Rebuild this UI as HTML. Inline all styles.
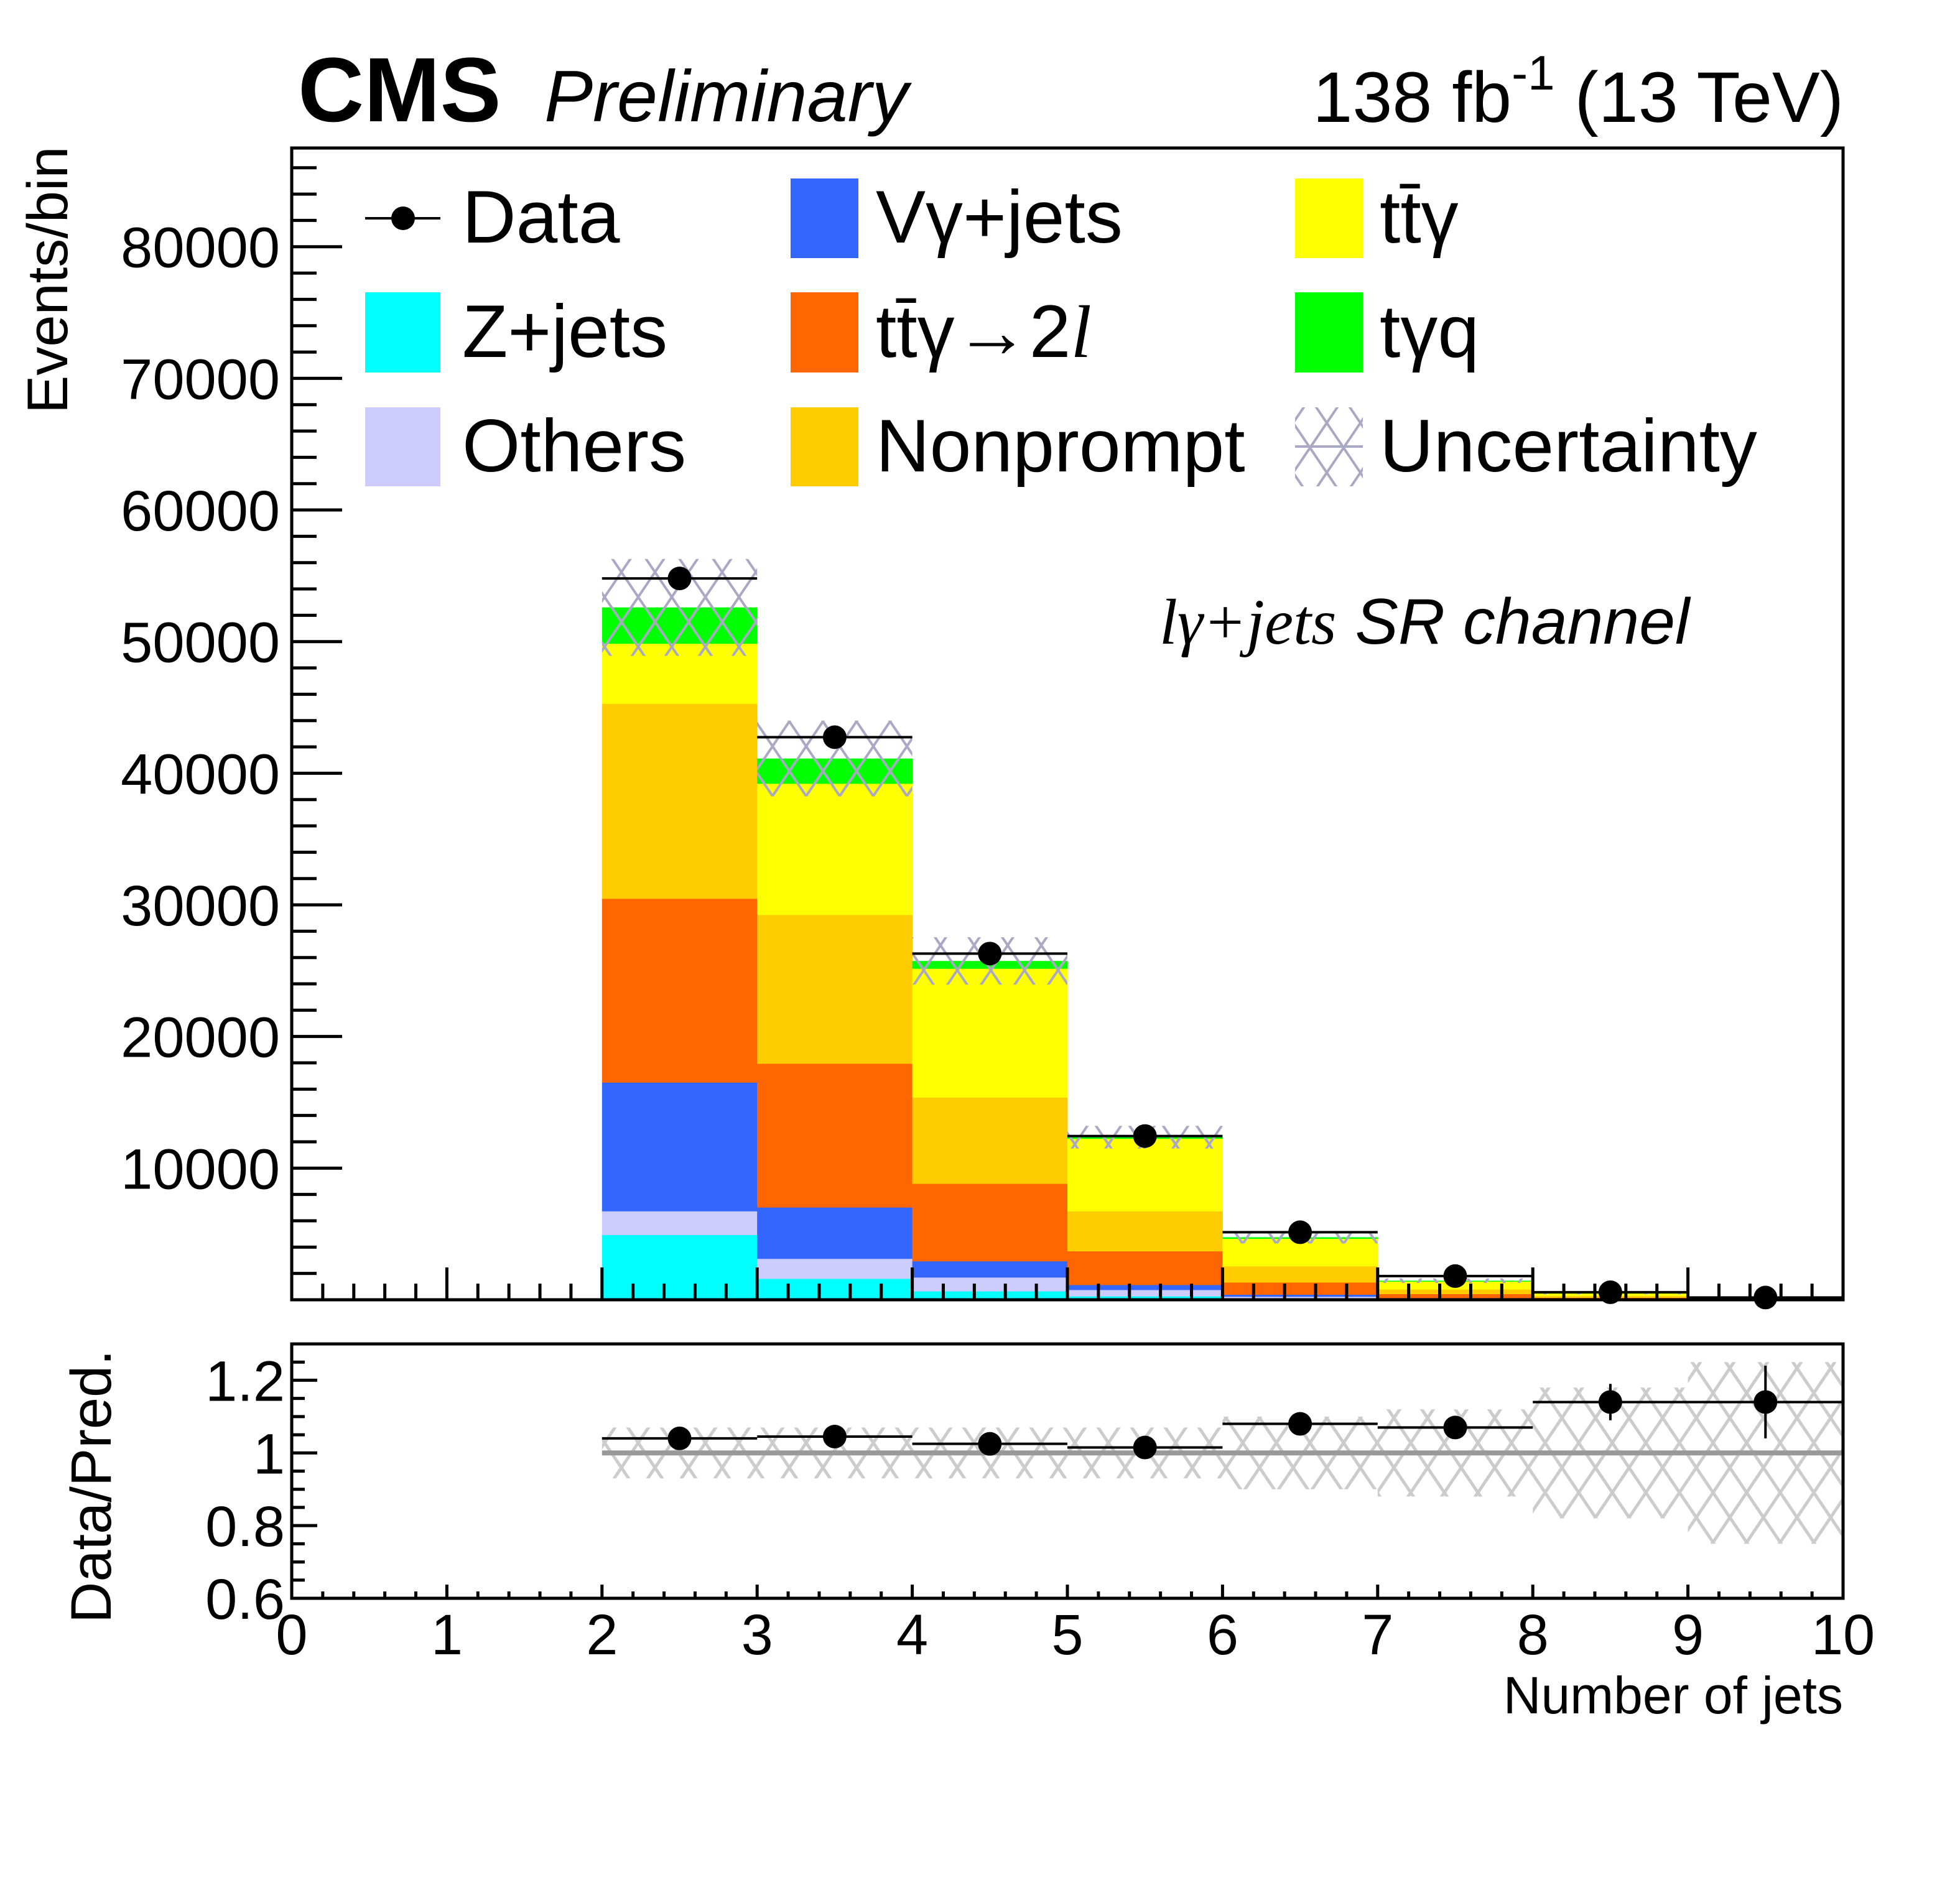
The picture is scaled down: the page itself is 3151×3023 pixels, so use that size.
<!DOCTYPE html>
<html><head><meta charset="utf-8"><style>
html,body{margin:0;padding:0;background:#fff;}
svg{display:block;font-family:"Liberation Sans",sans-serif;}
</style></head><body>
<svg id="c" xmlns="http://www.w3.org/2000/svg" width="3151" height="3023" viewBox="0 0 3151 3023">
<defs>
<pattern id="hatchMain" patternUnits="userSpaceOnUse" width="54" height="80">
<line x1="0" y1="0" x2="54" y2="80" stroke="#a9a9c6" stroke-width="4"/>
<line x1="54" y1="0" x2="0" y2="80" stroke="#a9a9c6" stroke-width="4"/>
</pattern>
<pattern id="hatchRatio" patternUnits="userSpaceOnUse" width="54" height="80">
<line x1="0" y1="0" x2="54" y2="80" stroke="#cccccc" stroke-width="5"/>
<line x1="54" y1="0" x2="0" y2="80" stroke="#cccccc" stroke-width="5"/>
</pattern>
<clipPath id="clipMain"><rect x="469" y="238" width="2494" height="1852"/></clipPath>
<clipPath id="clipRatio"><rect x="469" y="2161" width="2494" height="409"/></clipPath>
</defs>
<g id="stack" clip-path="url(#clipMain)"></g>
<g id="band" clip-path="url(#clipMain)"></g>
<g id="dataPts"></g>
<g id="rband" clip-path="url(#clipRatio)"></g>
<g id="rpts"></g>
<g id="axes"></g>

<text x="479" y="195" font-size="147" font-weight="bold">CMS</text>
<text x="875" y="195" font-size="117" font-style="italic">Preliminary</text>
<text x="2964" y="196" font-size="115" text-anchor="end">138 fb<tspan font-size="78" dy="-52">-1</tspan><tspan dy="52"> (13 TeV)</tspan></text>
<text x="1864" y="1035" font-size="104"><tspan font-family="'Liberation Serif',serif" font-style="italic">lγ+jets</tspan><tspan font-style="italic" dx="30">SR channel</tspan></text>
<text transform="translate(108,665) rotate(-90)" font-size="92">Events/bin</text>
<text transform="translate(178,2610) rotate(-90)" font-size="92">Data/Pred.</text>
<text x="2963" y="2755" font-size="84" text-anchor="end">Number of jets</text>

<g font-size="120">
<g><line x1="587" y1="351" x2="708" y2="351" stroke="#000" stroke-width="4"/><circle cx="648" cy="351" r="19" fill="#000"/><text x="743" y="390">Data</text></g>
<g><rect x="587" y="470" width="121" height="129" fill="#00ffff"/><text x="743" y="574">Z+jets</text></g>
<g><rect x="587" y="655" width="121" height="127" fill="#ccccff"/><text x="743" y="758">Others</text></g>
<g><rect x="1271" y="287" width="109" height="128" fill="#3366ff"/><text x="1408" y="390">Vγ+jets</text></g>
<g><rect x="1271" y="470" width="109" height="129" fill="#ff6600"/><text x="1408" y="574">tt̄γ<tspan font-family="'Liberation Serif',serif">→</tspan>2<tspan font-family="'Liberation Serif',serif" font-style="italic">l</tspan></text></g>
<g><rect x="1271" y="655" width="109" height="127" fill="#ffcc00"/><text x="1408" y="758">Nonprompt</text></g>
<g><rect x="2082" y="287" width="109" height="128" fill="#ffff00"/><text x="2218" y="390">tt̄γ</text></g>
<g><rect x="2082" y="470" width="109" height="129" fill="#00ff00"/><text x="2218" y="574">tγq</text></g>
<g><rect x="2082" y="655" width="109" height="127" fill="url(#hatchMain)"/><line x1="2082" y1="718" x2="2191" y2="718" stroke="#a9a9c6" stroke-width="4"/><text x="2218" y="758">Uncertainty</text></g>
</g>
</svg>
<script>
const binLo = [2,3,4,5,6,7,8,9];
const zjets = [4940,1610,660,280,100,40,15,5];
const others = [1800,1520,1050,480,150,50,20,5];
const vgamma = [9780,3900,1230,380,150,60,25,8];
const ttg2l = [13960,10920,5890,2560,930,300,110,35];
const nonprompt = [14820,11300,6550,3040,1230,350,130,40];
const ttgamma = [4560,9970,9790,5510,2090,600,190,55];
const tgq = [2740,1900,570,100,100,50,10,2];
const dataVals = [54800,42740,26300,12440,5130,1800,570,170];
const uncFrac = [0.07,0.07,0.07,0.07,0.10,0.12,0.18,0.25];
const ratioVals = [1.04,1.045,1.025,1.015,1.08,1.07,1.14,1.14];
const ratioErr = [0.005,0.005,0.006,0.01,0.015,0.025,0.05,0.1];
const yTicks = [10000,20000,30000,40000,50000,60000,70000,80000];
const rTicks = [0.6,0.8,1,1.2];
const rTickLabels = ["0.6","0.8","1","1.2"];
const xTicks = [0,1,2,3,4,5,6,7,8,9,10];

const NS = "http://www.w3.org/2000/svg";
const X0=469, X1=2963, MT=238, MB=2090, RT=2161, RB=2570;
const YMAX=87500, RMIN=0.6, RMAX=1.3;
function sx(v){return X0+(v)/10*(X1-X0);}
function sy(v){return MB-v/YMAX*(MB-MT);}
function ry(v){return RB-(v-RMIN)/(RMAX-RMIN)*(RB-RT);}
function mk(tag,attrs,parent){const e=document.createElementNS(NS,tag);for(const k in attrs)e.setAttribute(k,attrs[k]);parent.appendChild(e);return e;}

const comps=[["zjets",zjets,"#00ffff"],["others",others,"#ccccff"],["vgamma",vgamma,"#3366ff"],["ttgamma-2l",ttg2l,"#ff6600"],["nonprompt",nonprompt,"#ffcc00"],["ttgamma",ttgamma,"#ffff00"],["tgammaq",tgq,"#00ff00"]];
const stackG=document.getElementById("stack");
const totals=binLo.map(()=>0);
comps.forEach(([name,arr,col])=>{
  binLo.forEach((b,i)=>{
    const lo=totals[i], hi=lo+arr[i];
    const r=mk("rect",{x:sx(b),y:sy(hi),width:sx(b+1)-sx(b)+0.5,height:sy(lo)-sy(hi)+0.5,fill:col},stackG);
    
    
    totals[i]=hi;
  });
});
const bandG=document.getElementById("band");
binLo.forEach((b,i)=>{
  const t=totals[i], u=t*uncFrac[i];
  const r=mk("rect",{x:sx(b),y:sy(t+u),width:sx(b+1)-sx(b),height:sy(t-u)-sy(t+u),fill:"url(#hatchMain)"},bandG);
  
  
});
const dG=document.getElementById("dataPts");
binLo.forEach((b,i)=>{
  const v=dataVals[i], cx=sx(b+0.5), cy=sy(v), e=Math.sqrt(v)*1.5;
  const g=mk("g",{},dG);
  
  
  mk("line",{x1:sx(b),x2:sx(b+1),y1:cy,y2:cy,stroke:"#000","stroke-width":4},g);
  mk("line",{x1:cx,x2:cx,y1:sy(v+e),y2:sy(v-e),stroke:"#000","stroke-width":4},g);
  mk("circle",{cx:cx,cy:cy,r:19,fill:"#000"},g);
});
const rbG=document.getElementById("rband");
binLo.forEach((b,i)=>{
  const r=mk("rect",{x:sx(b),y:ry(1+uncFrac[i]),width:sx(b+1)-sx(b),height:ry(1-uncFrac[i])-ry(1+uncFrac[i]),fill:"url(#hatchRatio)"},rbG);
  
  
});
const refLine=mk("line",{x1:sx(binLo[0]),x2:X1,y1:ry(1),y2:ry(1),stroke:"#999","stroke-width":8},rbG);


const rG=document.getElementById("rpts");
binLo.forEach((b,i)=>{
  const v=ratioVals[i], cx=sx(b+0.5), cy=ry(v), e=ratioErr[i];
  const g=mk("g",{},rG);
  
  
  mk("line",{x1:sx(b),x2:sx(b+1),y1:cy,y2:cy,stroke:"#000","stroke-width":4},g);
  mk("line",{x1:cx,x2:cx,y1:ry(v+e),y2:ry(v-e),stroke:"#000","stroke-width":4},g);
  mk("circle",{cx:cx,cy:cy,r:19,fill:"#000"},g);
});
const aG=document.getElementById("axes");
const f1=mk("rect",{x:X0,y:MT,width:X1-X0,height:MB-MT,fill:"none",stroke:"#000","stroke-width":5},aG);


const f2=mk("rect",{x:X0,y:RT,width:X1-X0,height:RB-RT,fill:"none",stroke:"#000","stroke-width":5},aG);


for(let v=0;v<=YMAX;v+=2000){
  const maj=v%10000===0; const y=sy(v);
  mk("line",{x1:X0,x2:X0+(maj?81:40),y1:y,y2:y,stroke:"#000","stroke-width":5},aG);
}
yTicks.forEach(v=>{
  const t=mk("text",{x:450,y:sy(v)+33,"font-size":92,"text-anchor":"end"},aG);
  
  
  t.textContent=String(v);
});
for(let k=0;k<=50;k++){
  const v=k*0.2, maj=k%5===0, x=sx(v);
  mk("line",{x1:x,x2:x,y1:MB,y2:MB-(maj?52:26),stroke:"#000","stroke-width":5},aG);
  mk("line",{x1:x,x2:x,y1:RB,y2:RB-(maj?22:11),stroke:"#000","stroke-width":5},aG);
}
for(let k=0;k<=14;k++){
  const v=RMIN+k*0.05, y=ry(v), maj=k%4===0;
  mk("line",{x1:X0,x2:X0+(maj?41:21),y1:y,y2:y,stroke:"#000","stroke-width":5},aG);
}
rTicks.forEach((v,i)=>{
  const t=mk("text",{x:458,y:ry(v)+33,"font-size":92,"text-anchor":"end"},aG);
  
  
  t.textContent=rTickLabels[i];
});
xTicks.forEach(v=>{
  const t=mk("text",{x:sx(v),y:2660,"font-size":92,"text-anchor":"middle"},aG);
  
  
  t.textContent=String(v);
});
</script>
</body></html>
